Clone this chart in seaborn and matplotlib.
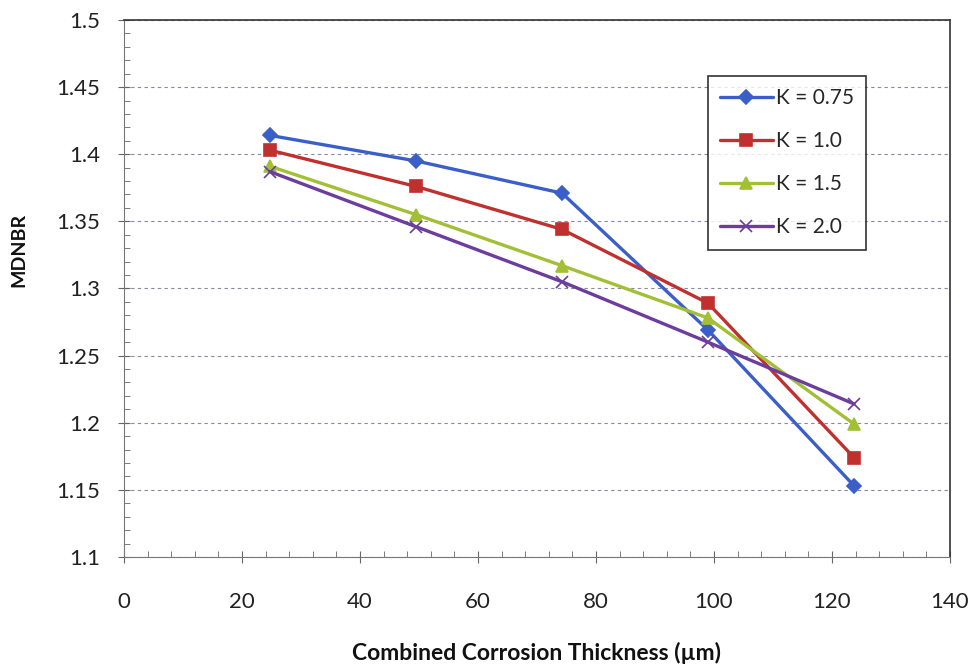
import numpy as np
import pandas as pd
import seaborn as sns
import matplotlib.pyplot as plt
from matplotlib.ticker import MultipleLocator

thickness = [24.75, 49.5, 74.25, 99.0, 123.75]
k_075 = [1.414, 1.395, 1.371, 1.269, 1.153]
k_10 = [1.403, 1.376, 1.344, 1.289, 1.174]
k_15 = [1.391, 1.355, 1.317, 1.278, 1.199]
k_20 = [1.387, 1.346, 1.305, 1.260, 1.214]
labels = ['K = 0.75', 'K = 1.0', 'K = 1.5', 'K = 2.0']
series = [k_075, k_10, k_15, k_20]

sns.set_style('white')
plt.rcParams['font.family'] = ['Lato', 'DejaVu Sans']

colors = ['#3B5FC9', '#C0302F', '#A2BF35', '#6C3D9C']
markers = ['D', 's', '^', 'x']
msizes = [7, 9, 9, 8]

fig = plt.figure(figsize=(9.74, 6.65), dpi=100)
ax = fig.add_axes([0.1273, 0.1624, 0.848, 0.8076])

for vals, lab, c, m, ms in zip(series, labels, colors, markers, msizes):
    sns.lineplot(x=thickness, y=vals, color=c, marker=m, markersize=ms,
                 markeredgecolor=c, markeredgewidth=1.2, linewidth=2.4,
                 label=lab, ax=ax)

ax.set_xlim(0, 140)
ax.set_ylim(1.1, 1.5)
ax.xaxis.set_major_locator(MultipleLocator(20))
ax.xaxis.set_minor_locator(MultipleLocator(4))
ax.yaxis.set_major_locator(MultipleLocator(0.05))
ax.yaxis.set_minor_locator(MultipleLocator(0.01))
ax.yaxis.set_major_formatter(plt.FuncFormatter(lambda v, p: ('%.2f' % v).rstrip('0')))
ax.grid(axis='y', which='major', color='#8888a8', linestyle=(0, (3, 3)), linewidth=0.8)
ax.tick_params(axis='both', which='major', labelsize=16, direction='inout', length=8,
               color='#666666', labelcolor='#222222')
ax.tick_params(axis='x', which='major', pad=21)
ax.tick_params(axis='y', which='major', pad=13)
ax.tick_params(axis='both', which='minor', direction='in', length=4, color='#666666')
ax.tick_params(left=True, bottom=True, which='both')
for s in ['top', 'right']:
    ax.spines[s].set_color('#333333')
    ax.spines[s].set_linewidth(1.2)
for s in ['left', 'bottom']:
    ax.spines[s].set_color('#777777')
    ax.spines[s].set_linewidth(0.8)

ax.set_xlabel('Combined Corrosion Thickness (µm)', fontsize=16.5, fontweight='bold',
              labelpad=22, color='#111111')
ax.set_ylabel('MDNBR', fontsize=14, fontweight='bold', color='#111111')
ax.yaxis.set_label_coords(-0.117, 0.572)

leg = ax.legend(title=None, loc='upper left', bbox_to_anchor=(0.707, 0.896),
                borderaxespad=0, fontsize=15, frameon=True, fancybox=False,
                handlelength=2.5, handletextpad=0.15, labelspacing=1.1,
                borderpad=0.6)
leg.get_frame().set_edgecolor('black')
leg.get_frame().set_linewidth(1.2)

fig.savefig('out.png', dpi=100)
